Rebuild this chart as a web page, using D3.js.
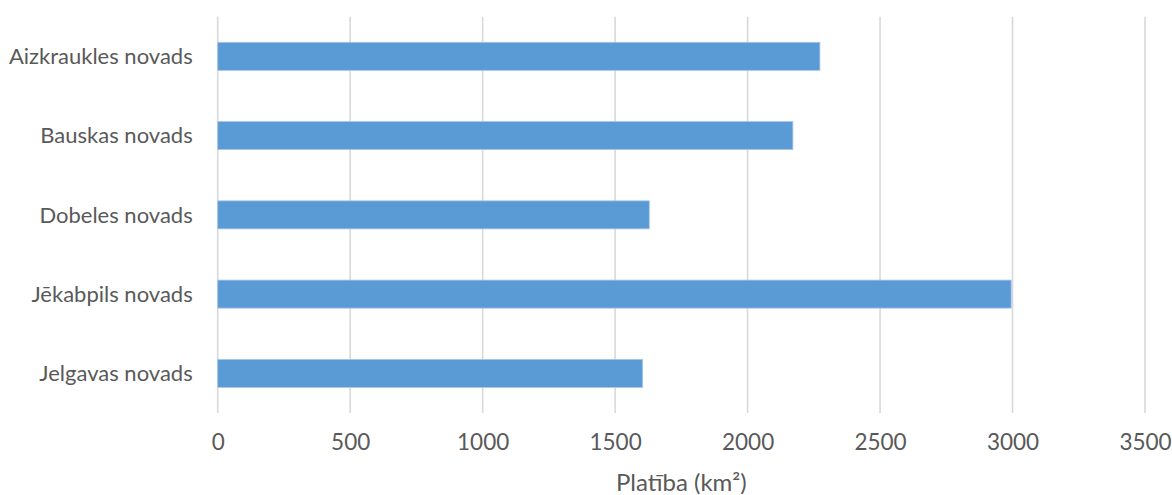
<!DOCTYPE html>
<html>
<head>
<meta charset="utf-8">
<script src="https://cdn.jsdelivr.net/npm/d3@7"></script>
<style>
  html, body { margin: 0; padding: 0; background: #fff; }
  svg text { font-family: Lato, "Open Sans", sans-serif; fill: #595959; }
</style>
</head>
<body>
<svg id="chart" width="1172" height="495"></svg>
<script>
// Municipality areas, km²
const categories = ["Aizkraukles novads", "Bauskas novads", "Dobeles novads", "Jēkabpils novads", "Jelgavas novads"];
const areas = [2273, 2171, 1629, 2995, 1604];
const xTicks = [0, 500, 1000, 1500, 2000, 2500, 3000, 3500];
const axisTitle = "Platība (km²)";

const svg = d3.select("#chart");
const margin = { top: 16.7, left: 217.7, right: 1172 - 1145, bottom: 495 - 413 };
const W = 1172, H = 495;

const x = d3.scaleLinear().domain([0, 3500]).range([margin.left, W - margin.right]);
const y = d3.scaleBand().domain(categories).range([margin.top, H - margin.bottom]).paddingInner(0.646).paddingOuter(0.323);

// vertical gridlines
svg.append("g")
  .selectAll("line")
  .data(xTicks)
  .join("line")
  .attr("x1", d => x(d)).attr("x2", d => x(d))
  .attr("y1", margin.top).attr("y2", H - margin.bottom)
  .attr("stroke", "#d9d9d9").attr("stroke-width", 1.6);

// bars
svg.append("g")
  .selectAll("rect")
  .data(categories)
  .join("rect")
  .attr("x", x(0))
  .attr("y", d => y(d))
  .attr("width", (d, i) => x(areas[i]) - x(0))
  .attr("height", y.bandwidth())
  .attr("fill", "#5b9bd5")
  .attr("stroke", "#a9c8e8").attr("stroke-width", 0.8);

// x axis labels
const xAxis = d3.axisBottom(x).tickValues(xTicks).tickSize(0).tickPadding(0).tickFormat(d3.format("d"));
const gx = svg.append("g").attr("transform", `translate(0, ${H - margin.bottom})`).call(xAxis);
gx.select(".domain").remove();
gx.selectAll("text").attr("dy", null).attr("y", 37).style("font-size", "22.5px").style("fill", "#595959");

// y axis labels
const yAxis = d3.axisLeft(y).tickSize(0).tickPadding(25);
const gy = svg.append("g").attr("transform", `translate(${margin.left}, 0)`).call(yAxis);
gy.select(".domain").remove();
gy.selectAll("text").attr("dy", "0.35em").style("font-size", "22px").style("fill", "#595959");

// axis title
svg.append("text")
  .attr("x", (x(0) + x(3500)) / 2)
  .attr("y", 491)
  .attr("text-anchor", "middle")
  .style("font-size", "24px")
  .text(axisTitle);
</script>
</body>
</html>
